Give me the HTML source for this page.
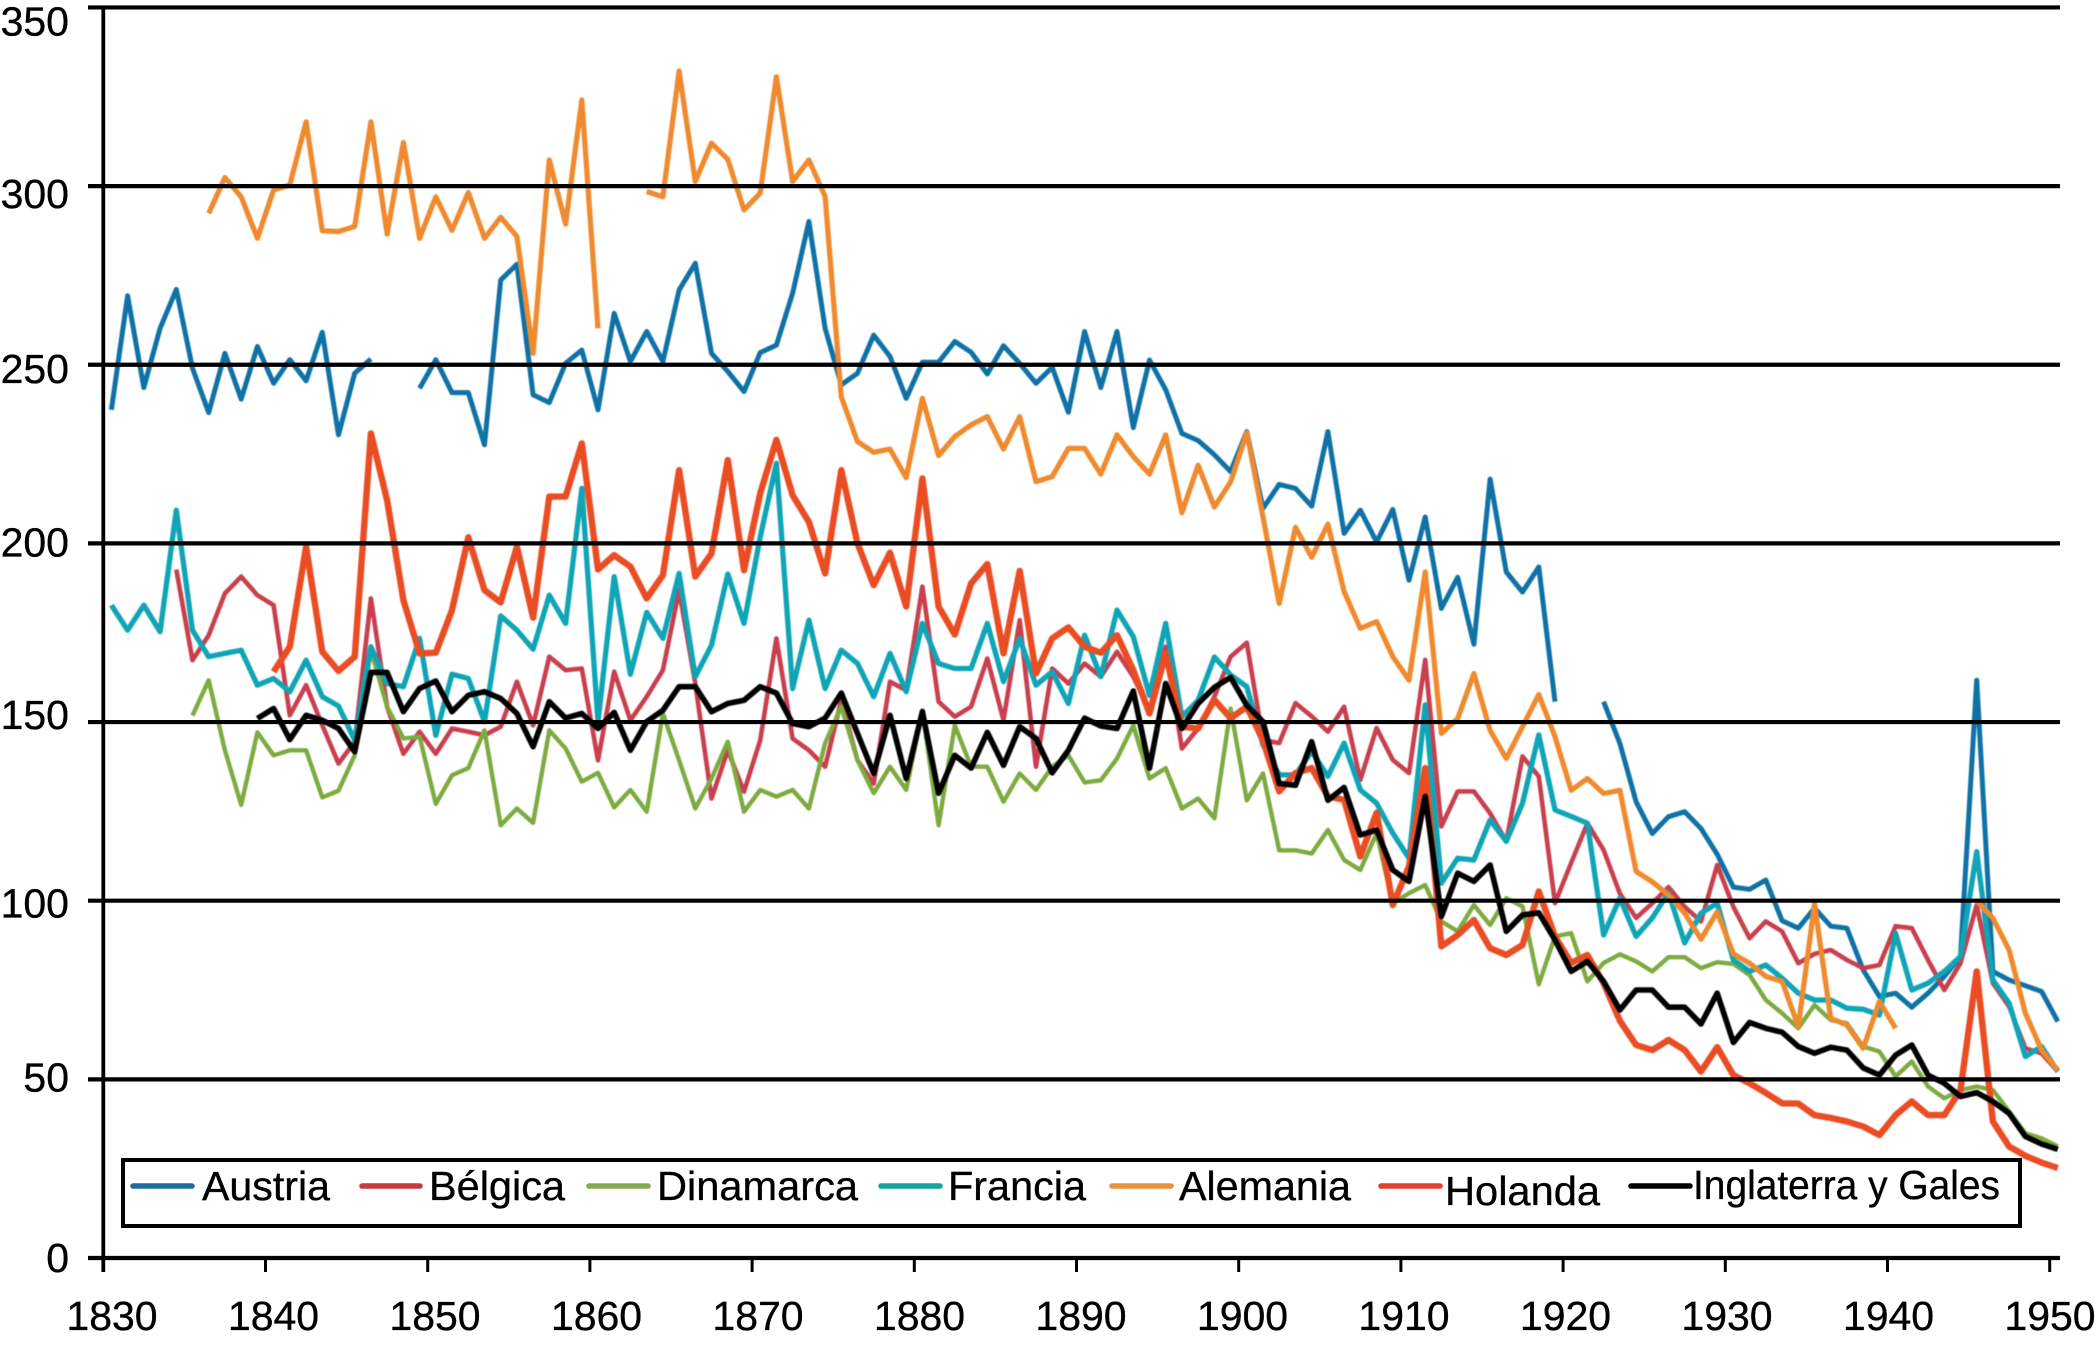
<!DOCTYPE html>
<html lang="es">
<head>
<meta charset="utf-8">
<title>Series históricas 1830-1950</title>
<style>
html,body{margin:0;padding:0;background:#fff;}
body{width:2096px;height:1350px;overflow:hidden;}
svg{display:block;}
text{font-family:"Liberation Sans",sans-serif;font-size:41px;fill:#000;stroke:#000;stroke-width:.35px;}
#series-layer{filter:blur(.5px);}
</style>
</head>
<body>
<svg id="chart" xmlns="http://www.w3.org/2000/svg" width="2096" height="1350" viewBox="0 0 2096 1350">
  <g id="series-layer"></g>
  <g id="grid-layer"></g>
  <g id="axis-layer"></g>
  <g>
    <rect x="123" y="1160" width="1897" height="66" fill="#fff" stroke="#000" stroke-width="4"/>
    <g>
      <line x1="133" y1="1186" x2="192" y2="1186" stroke="#1c6f9c" stroke-width="5.5" stroke-linecap="round"/>
      <text x="202" y="1200" textLength="128" lengthAdjust="spacingAndGlyphs">Austria</text>
    </g>
    <g>
      <line x1="362" y1="1186" x2="420" y2="1186" stroke="#c63b40" stroke-width="5.5" stroke-linecap="round"/>
      <text x="429" y="1200" textLength="136" lengthAdjust="spacingAndGlyphs">Bélgica</text>
    </g>
    <g>
      <line x1="589" y1="1186" x2="648" y2="1186" stroke="#86a852" stroke-width="5.5" stroke-linecap="round"/>
      <text x="657" y="1200" textLength="201" lengthAdjust="spacingAndGlyphs">Dinamarca</text>
    </g>
    <g>
      <line x1="881" y1="1186" x2="940" y2="1186" stroke="#15a29f" stroke-width="5.5" stroke-linecap="round"/>
      <text x="948" y="1200" textLength="138" lengthAdjust="spacingAndGlyphs">Francia</text>
    </g>
    <g>
      <line x1="1112" y1="1186" x2="1171" y2="1186" stroke="#e8923c" stroke-width="5.5" stroke-linecap="round"/>
      <text x="1179" y="1200" textLength="172" lengthAdjust="spacingAndGlyphs">Alemania</text>
    </g>
    <g>
      <line x1="1381" y1="1186" x2="1440" y2="1186" stroke="#e1402e" stroke-width="5.5" stroke-linecap="round"/>
      <text x="1445" y="1205" textLength="155" lengthAdjust="spacingAndGlyphs">Holanda</text>
    </g>
    <g>
      <line x1="1631" y1="1186" x2="1690" y2="1186" stroke="#000" stroke-width="5.5" stroke-linecap="round"/>
      <text x="1693" y="1199" textLength="307" lengthAdjust="spacingAndGlyphs">Inglaterra y Gales</text>
    </g>
  </g>
</svg>
<script>
const firstYear = 1830;
const xTickLabels = ["1830","1840","1850","1860","1870","1880","1890","1900","1910","1920","1930","1940","1950"];
const yTickValues = [0,50,100,150,200,250,300,350];
const yTickLabels = ["0","50","100","150","200","250","300","350"];

const austria = [
237.4,269.3,243.6,260.2,271.1,249,236.6,253.2,240.4,255.1,
244.8,251.4,245.5,259.1,230.4,247.6,251.6,null,null,243.4,
251.4,242.2,242.2,227.6,273.7,278.1,241.6,239.4,250.4,254.1,
237.4,264.4,250.9,259.3,250.9,270.9,278.4,253.2,248.1,242.5,
253.4,255.5,270,290.1,260.2,244.4,247.6,258.3,252.3,240.6,
250.7,250.7,256.5,253.5,247.4,255.3,250.4,244.8,249.3,236.7,
259.3,243.6,259.3,232.4,251.3,243,230.8,228.8,224.8,220.1,
231.3,209.8,216.5,215.4,210.4,231.3,202.8,209.3,200.4,209.5,
189.7,207.4,181.8,190.5,171.8,218,192,186.4,193.4,155.7,
null,null,155.7,144,127.7,118.8,123.5,124.9,120.2,113,
103.8,103.2,105.8,94.4,92.3,97.9,92.9,92.3,80.6,73.2,
74.1,70.2,74.1,78.8,84.4,161.7,80.2,77.8,76.2,74.6,66.2];

const belgica = [
null,null,null,null,192.7,167.3,174.3,186,190.7,185.5,
182.7,151.9,160.3,149.1,138.4,144.5,184.6,154.3,141.1,147.3,
141.1,148.2,147.3,146.3,148.7,161.3,149.1,168.3,164.5,165,
139.3,164.1,150.5,157.1,164.5,186.9,160.8,128.6,142.1,130.5,
144.9,173.4,145.4,142.1,137.5,156.1,139.3,132.8,161.3,158.9,
187.9,155.7,151.5,154.3,167.8,150.5,178.5,137.5,165,160.8,
166.4,162.7,169.7,162.7,153.3,171.1,142.6,148.2,157.1,168.3,
172.2,145,144.1,155.3,151.6,147.3,154.3,133.8,148.3,139.4,
135.7,167.4,120.8,130.6,130.6,124.5,116.6,140.4,134.8,99.3,
110.6,121.7,114.2,102,95.2,99.3,103.8,98.3,94.2,110,
98.3,89.5,94.2,91.4,82.5,85.1,86.2,83.4,81.1,82,
92.9,92.3,83.4,75,82.5,98.8,76.9,70.4,58.7,57.3,52.2];

const dinamarca = [
null,null,null,null,null,151.8,161.7,142.1,126.8,147.1,
140.7,142.1,142.1,128.9,130.8,140.7,170.1,154.3,145.4,145.9,
127.1,135.1,137.1,147.7,121.1,125.8,121.8,147.7,142.6,133.3,
135.8,126.1,131,124.9,152.4,139.3,125.8,134.2,144.5,124.9,
131,129.1,131,125.8,144.1,154.3,139.3,130.1,137.5,131,
153.3,121.1,149.1,137.5,137.5,127.7,135.6,131,137.5,140.7,
133.1,133.7,139.8,149.1,134.2,137.1,125.8,128.6,123.1,153.8,
128.1,135.6,114.1,114.1,113.2,119.8,111.4,108.6,118.9,99.3,
102.1,104.4,94.2,91.4,98.8,93.2,100.7,98.4,76.6,90,
90.9,77.4,82.6,85,83,80.2,84.2,84.2,81.1,82.8,
82.3,79.2,72.2,68.5,64.3,70.8,66.6,65.7,59.2,57.8,
50.8,55,48,44.7,47,48,47,41,34.9,33.5,31.2];

const francia = [
182.7,175.7,182.7,175.3,209.3,175.7,168.3,169.2,170.1,160.3,
162.2,158.5,167.3,157.1,154.5,144.9,171.1,160.8,159.9,173.4,
146.3,163.4,162.2,150.1,179.7,175.7,170.4,185.5,177.6,215.4,
150.1,190.7,163.4,180.7,173.4,191.6,162.7,171.5,191.4,177.6,
201.8,222.4,159.4,178.5,159.4,170.1,166.4,157.1,169.2,158.5,
177.6,166.4,165,165,177.6,161.3,173.4,160.3,164.1,155.2,
174.3,162.7,181.3,173.9,157.5,177.6,151.5,156.1,168.2,163.2,
159.9,143.6,135.2,135.2,141.8,134.8,144.1,131,127.3,118.9,
111.9,154.8,104.9,111.9,111.4,122.6,116.6,127.3,146.4,125.4,
123.6,121.7,90.4,100.7,90,95.2,102.2,88.2,96.5,99.3,
83.4,80.2,82,78.3,74.1,72.2,72.2,69.9,69.6,68,
90.9,75,76.9,80.2,84.4,113.7,77.8,71.3,56.4,59.2,52.2];

const alemania = [
null,null,null,null,null,null,292.4,302.4,297,285.4,
298.9,300.3,318,287.5,287.3,288.7,318,286.6,312.2,285.4,
297,287.6,298.2,285.4,291.3,285.9,253.2,307.3,289.4,324.1,
260.2,null,null,298.5,297,332.2,301.3,312,307.5,293.3,
298,330.6,301.3,307.3,297.1,241,228.5,225.5,226.4,218.4,
240.6,224.6,229.9,233.2,235.5,226.4,235.5,217.3,218.7,226.6,
226.6,219.4,230.4,224.3,219.4,230.4,208.6,221.9,210.2,217.2,
231,207.4,183.2,204.5,196.1,205.4,186.5,176.2,178.1,168.3,
161.7,192,146.8,151,163.6,147.7,139.8,148.7,157.7,145.9,
130.9,134.2,130,130.9,108.2,105.3,101.6,96.5,89.2,96.9,
85.1,82.5,78.8,77.4,64.8,99.1,67.1,65.2,58.7,71.8,
64.3,null,null,null,null,100,95.1,86.2,68.5,58.2,52.6];

const holanda = [
null,null,null,null,null,null,null,null,null,null,
164.1,171.1,199.1,169.7,164.3,168.3,230.8,212.1,184.1,169.2,
169.4,181.3,201.7,186.9,183.5,199.1,179.2,213.1,213.1,228,
192.7,196.7,193.5,184.6,191.1,220.5,190.7,197.2,223.3,192.5,
214,229,213.5,206,191.6,220.5,200,188.3,197.4,182.3,
218.2,182.3,174.5,188.8,194.2,169.2,192.3,163.6,173.4,176.5,
171.1,169.4,174.3,164.5,152.4,169.2,148.7,148.2,156.2,151.1,
154.3,144.9,130.6,135.7,137.1,129.2,128.2,112.4,124.6,98.8,
109.6,137.1,87.2,90.4,94.6,86.7,84.8,87.6,102.6,90,
82.6,84.8,76.9,66.4,59.6,58.2,61,58.2,52.2,59,
51.2,48.9,46.2,43.3,43.2,40,39.2,38.2,36.8,34.4,
40,43.8,40,40,47,80.2,38.2,31.2,28.6,26.7,25.2];

const inglaterra = [
null,null,null,null,null,null,null,null,null,151,
153.8,145.1,151.9,150.5,148.2,141.7,163.9,163.9,152.9,159.4,
161.5,152.9,157.5,158.5,156.6,152.4,143.1,155.7,151.1,152.4,
148.2,152.7,142.1,150.1,153.3,159.9,159.9,152.9,155.2,156.1,
159.9,158.1,149.6,148.7,151.1,158.1,146.8,135.6,151.9,134.2,
152.9,130.1,140.7,137.1,147.1,137.9,148.7,145.4,135.8,142.1,
151.1,148.9,148.2,158.7,137.1,160.8,148.2,155.2,159.7,162.5,
154.7,150.1,132.8,132.3,144.5,128.1,131.7,118.4,119.8,108.6,
105.4,129.2,95.6,107.7,105.4,110,91.4,96,96.6,89,
80.2,83,77.4,69.4,75,75,70.2,70.2,65.5,74.1,
60.3,65.9,64.3,63.2,59.2,57.3,59,58.2,53.2,51.2,
56.8,59.6,51.2,48.9,45.2,46.3,43.8,40.5,34,31.9,30.4];

const svgNS = "http://www.w3.org/2000/svg";
const plotLeft = 103.3;
const plotRight = 2060;
const plotBottom = 1258;
const pxPerYear = 16.22;
const pxPerUnit = 3.573;

function xScale(index) { return plotLeft + pxPerYear * (index + 0.5); }
function xTick(index) { return plotLeft + pxPerYear * 10 * index; }
function yScale(value) { return plotBottom - pxPerUnit * value; }

function linePath(values) {
  let d = "";
  let pen = false;
  values.forEach(function (v, i) {
    if (v === null) { pen = false; return; }
    d += (pen ? "L" : "M") + xScale(i).toFixed(1) + " " + yScale(v).toFixed(1);
    pen = true;
  });
  return d;
}

function drawSeries(values, color, width, name) {
  const el = document.createElementNS(svgNS, "path");
  el.setAttribute("d", linePath(values));
  el.setAttribute("fill", "none");
  el.setAttribute("stroke", color);
  el.setAttribute("stroke-width", width);
  el.setAttribute("stroke-linejoin", "round");
  el.setAttribute("stroke-linecap", "butt");
  
  
  document.getElementById("series-layer").appendChild(el);
}

drawSeries(austria, "#0f72a6", 5, "series-austria");
drawSeries(belgica, "#c93f4e", 4.6, "series-belgica");
drawSeries(dinamarca, "#7dab40", 4.4, "series-dinamarca");
drawSeries(francia, "#10a5b6", 5.3, "series-francia");
drawSeries(alemania, "#ef8a2f", 5.2, "series-alemania");
drawSeries(holanda, "#ea4d24", 6.4, "series-holanda");
drawSeries(inglaterra, "#000000", 5.6, "series-inglaterra-y-gales");

const yLabelNudge = [14, 12, 17, 7, 13, 18, 22, 28];
const gridLayer = document.getElementById("grid-layer");
const axisLayer = document.getElementById("axis-layer");

yTickValues.forEach(function (v, i) {
  const y = yScale(v);
  const grid = document.createElementNS(svgNS, "line");
  grid.setAttribute("x1", 88);
  grid.setAttribute("x2", plotRight);
  grid.setAttribute("y1", y);
  grid.setAttribute("y2", y);
  grid.setAttribute("stroke", "#000");
  grid.setAttribute("stroke-width", 4.2);
  
  
  gridLayer.appendChild(grid);

  const label = document.createElementNS(svgNS, "text");
  label.setAttribute("x", 69);
  label.setAttribute("y", y + yLabelNudge[i]);
  label.setAttribute("text-anchor", "end");
  label.textContent = yTickLabels[i];
  
  
  axisLayer.appendChild(label);
});

const yAxis = document.createElementNS(svgNS, "line");
yAxis.setAttribute("x1", plotLeft);
yAxis.setAttribute("x2", plotLeft);
yAxis.setAttribute("y1", yScale(350) - 2);
yAxis.setAttribute("y2", 1272);
yAxis.setAttribute("stroke", "#000");
yAxis.setAttribute("stroke-width", 3.8);


axisLayer.appendChild(yAxis);

xTickLabels.forEach(function (t, i) {
  const tick = document.createElementNS(svgNS, "line");
  tick.setAttribute("x1", xTick(i));
  tick.setAttribute("x2", xTick(i));
  tick.setAttribute("y1", plotBottom);
  tick.setAttribute("y2", 1272);
  tick.setAttribute("stroke", "#000");
  tick.setAttribute("stroke-width", 3);
  
  
  axisLayer.appendChild(tick);

  const label = document.createElementNS(svgNS, "text");
  label.setAttribute("x", 112 + 161.5 * i);
  label.setAttribute("y", 1330);
  label.setAttribute("text-anchor", "middle");
  label.textContent = t;
  
  
  axisLayer.appendChild(label);
});
</script>
</body>
</html>
